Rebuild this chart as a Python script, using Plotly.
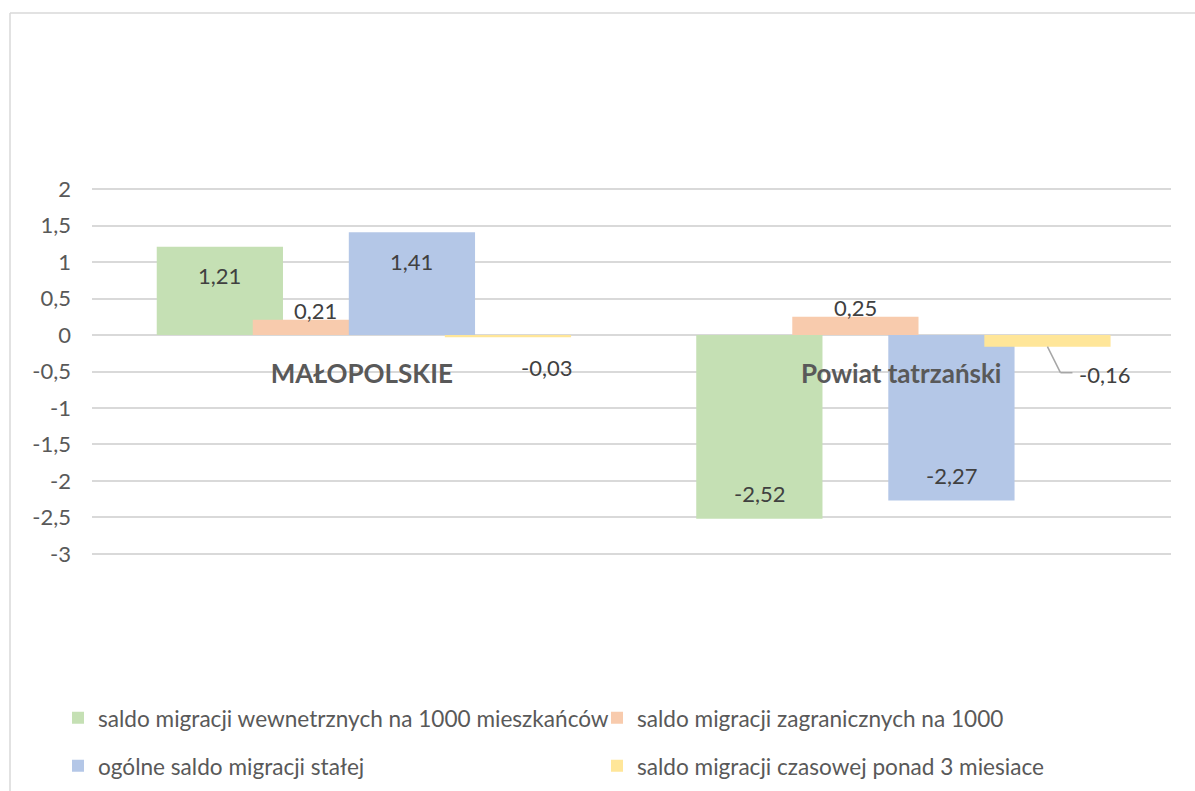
import plotly.graph_objects as go

categories = ["MAŁOPOLSKIE", "Powiat tatrzański"]
series_names = [
    "saldo migracji wewnetrznych na 1000 mieszkańców",
    "saldo migracji zagranicznych na 1000",
    "ogólne saldo migracji stałej",
    "saldo migracji czasowej ponad 3 miesiace",
]
wewnetrzne = [1.21, -2.52]
zagraniczne = [0.21, 0.25]
ogolne = [1.41, -2.27]
czasowe = [-0.03, -0.16]
tick_vals = [2, 1.5, 1, 0.5, 0, -0.5, -1, -1.5, -2, -2.5, -3]
tick_text = ["2", "1,5", "1", "0,5", "0", "-0,5", "-1", "-1,5", "-2", "-2,5", "-3"]

values = [wewnetrzne, zagraniczne, ogolne, czasowe]
colors = ["#C5E0B4", "#F8CBAD", "#B4C7E7", "#FFE699"]

FONT = "Lato"
W, H = 1195, 791
ML, MR, MT, MB = 92, 24, 187, 235
plot_w = W - ML - MR
plot_h = H - MT - MB
PAD = 0.03
YMIN, YMAX = -3 - PAD, 2 + PAD
px_per_cat = plot_w / 2.0
px_per_unit = plot_h / (YMAX - YMIN)

bar_w = 0.234
step = 0.178
first_off = -0.38

legend_ids = ["legend", "legend2", "legend3", "legend4"]

fig = go.Figure()
for k, (name, vals, col) in enumerate(zip(series_names, values, colors)):
    fig.add_trace(go.Bar(
        x=categories, y=vals, name=name,
        marker=dict(color=col, line=dict(width=0)),
        width=bar_w, offset=first_off + k * step,
        legend=legend_ids[k],
        hoverinfo="skip",
    ))

def fmt(v):
    return f"{v:.2f}".replace(".", ",")

annotations = []
label_font = dict(family=FONT, size=22, color="#404040")
for k, vals in enumerate(values):
    for i, v in enumerate(vals):
        xc = i + first_off + k * step + bar_w / 2
        xs, ys = 0, 0
        if k == 1:
            ys = 9
        elif k == 3:
            if i == 0:
                xs, ys = 39, -30
            else:
                xs, ys = 57, -28
        else:
            ys = -29 if v > 0 else 25
        annotations.append(dict(
            x=xc, y=v, xref="x", yref="y", text=fmt(v), showarrow=False,
            xshift=xs, yshift=ys, font=label_font, yanchor="middle", xanchor="center",
        ))

# leader line for the tatrzański temporary-migration label
v = czasowe[1]
xc = 1 + first_off + 3 * step + bar_w / 2
pts = [(xc, v), (xc + 13 / px_per_cat, v - 26 / px_per_unit), (xc + 25 / px_per_cat, v - 26 / px_per_unit)]
shapes = []
for (xa, ya), (xb, yb) in zip(pts[:-1], pts[1:]):
    shapes.append(dict(type="line", xref="x", yref="y", x0=xa, y0=ya, x1=xb, y1=yb,
                       line=dict(color="#A6A6A6", width=1.5)))

# chart frame (top and left edges)
def px2paper_x(p):
    return (p - ML) / plot_w
def px2paper_y(p):
    return (H - MB - p) / plot_h
shapes.append(dict(type="line", xref="paper", yref="paper",
                   x0=px2paper_x(10), x1=px2paper_x(1196), y0=px2paper_y(13), y1=px2paper_y(13),
                   line=dict(color="#D9D9D9", width=1.5)))
shapes.append(dict(type="line", xref="paper", yref="paper",
                   x0=px2paper_x(10), x1=px2paper_x(10), y0=px2paper_y(13), y1=px2paper_y(800),
                   line=dict(color="#D9D9D9", width=1.5)))

legend_pos = [(58, 718), (597, 718), (58, 766), (597, 766)]
legends = {}
for lid, (lx, ly) in zip(legend_ids, legend_pos):
    legends[lid] = dict(
        orientation="h", xref="container", yref="container", xanchor="left", yanchor="middle",
        x=lx / W, y=(H - ly) / H, font=dict(family=FONT, size=22.6, color="#595959"),
        bgcolor="rgba(0,0,0,0)", itemclick=False, itemdoubleclick=False,
    )

fig.update_layout(
    width=W, height=H,
    margin=dict(l=ML, r=MR, t=MT, b=MB),
    paper_bgcolor="white", plot_bgcolor="white",
    barmode="overlay",
    separators=", ",
    font=dict(family=FONT, color="#595959"),
    xaxis=dict(
        type="category", range=[-0.5, 1.5], anchor="free",
        position=(0 - YMIN) / (YMAX - YMIN),
        showgrid=False, showline=False, zeroline=False, ticks="",
        tickfont=dict(family=FONT, size=26, color="#595959", weight="bold"),
        ticklabelstandoff=21,
    ),
    yaxis=dict(
        range=[YMIN, YMAX], tickvals=tick_vals, ticktext=tick_text,
        showgrid=True, gridcolor="#D9D9D9", gridwidth=1.5,
        zeroline=True, zerolinecolor="#D9D9D9", zerolinewidth=1.5,
        showline=False, ticks="",
        tickfont=dict(family=FONT, size=22, color="#595959"),
        ticklabelstandoff=20,
    ),
    annotations=annotations,
    shapes=shapes,
    showlegend=True,
    **legends,
)

fig.write_html(
    "out.html",
    config={"displayModeBar": False},
    post_script="document.body.style.margin='0';document.body.style.overflow='hidden';",
)
